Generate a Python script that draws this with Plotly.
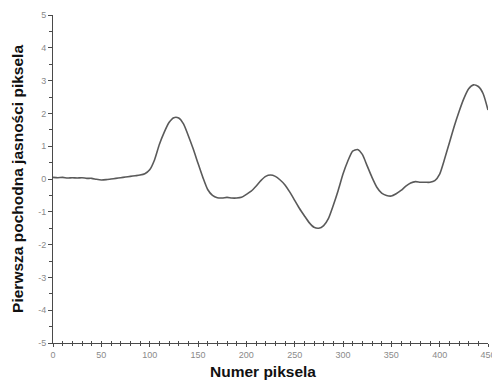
import plotly.graph_objects as go

pixel = list(range(0, 451, 5))
derivative = [
    0.05, 0.04, 0.05, 0.03, 0.04, 0.03, 0.04, 0.02, 0.02, -0.01,
    -0.03, -0.02, 0.00, 0.02, 0.04, 0.06, 0.08, 0.10, 0.12, 0.16,
    0.28, 0.58, 1.05, 1.42, 1.72, 1.87, 1.86, 1.68, 1.32, 0.92,
    0.48, 0.05, -0.32, -0.50, -0.57, -0.58, -0.56, -0.58, -0.58, -0.56,
    -0.47, -0.37, -0.22, -0.05, 0.08, 0.12, 0.08, -0.03, -0.18, -0.40,
    -0.65, -0.90, -1.12, -1.33, -1.47, -1.50, -1.42, -1.20, -0.80, -0.35,
    0.15, 0.55, 0.85, 0.90, 0.75, 0.40, 0.05, -0.25, -0.43, -0.50,
    -0.52, -0.45, -0.35, -0.22, -0.12, -0.08, -0.10, -0.10, -0.10, -0.05,
    0.15, 0.60, 1.10, 1.60, 2.05, 2.45, 2.75, 2.87, 2.82, 2.60,
    2.10,
]
x_ticks = [0, 50, 100, 150, 200, 250, 300, 350, 400, 450]
y_ticks = [-5, -4, -3, -2, -1, 0, 1, 2, 3, 4, 5]

x_title = "Numer piksela"
y_title = "Pierwsza pochodna jasności piksela"

fig = go.Figure()
fig.add_trace(go.Scatter(
    x=pixel, y=derivative, mode="lines",
    line=dict(color="#5a5a5a", width=1.6, shape="spline", smoothing=0.6),
    showlegend=False, hoverinfo="skip",
))
# overlay axis hosting the inward half of the x ticks (ticks cross the axis line)
fig.add_trace(go.Scatter(x=[0, 450], y=[0, 0], xaxis="x2", mode="lines",
                         line=dict(width=0), showlegend=False, hoverinfo="skip"))

axis_font = dict(family="Liberation Sans, Arial, sans-serif", size=9, color="#8a8a8a")
title_font = dict(family="Liberation Sans, Arial, sans-serif", size=15.5, color="#111111")

fig.update_layout(
    width=492, height=381,
    margin=dict(l=53, r=4, t=15, b=38, autoexpand=False),
    paper_bgcolor="white", plot_bgcolor="white",
    xaxis=dict(
        range=[0, 450], tickvals=x_ticks, ticktext=[str(v) for v in x_ticks],
        showgrid=False, zeroline=False, showline=True, linecolor="#4a4a4a", linewidth=1,
        ticks="outside", ticklen=3, tickcolor="#4a4a4a", tickwidth=1,
        minor=dict(dtick=10, ticks="outside", ticklen=2, tickcolor="#4a4a4a"),
        tickfont=axis_font, automargin=False, ticklabeloverflow="allow",
    ),
    xaxis2=dict(
        range=[0, 450], overlaying="x", matches="x", anchor="y", side="bottom",
        tickvals=x_ticks, showticklabels=False, showgrid=False, zeroline=False,
        showline=False, ticks="inside", ticklen=2, tickcolor="#4a4a4a",
        minor=dict(dtick=10, ticks="inside", ticklen=2, tickcolor="#4a4a4a"),
        automargin=False,
    ),
    yaxis=dict(
        range=[-5, 5], tickvals=y_ticks, ticktext=[str(v) for v in y_ticks],
        showgrid=False, zeroline=False, showline=True, linecolor="#4a4a4a", linewidth=1,
        ticks="outside", ticklen=4, tickcolor="#4a4a4a",
        minor=dict(dtick=0.5, ticks="outside", ticklen=3, tickcolor="#4a4a4a"),
        tickfont=axis_font, automargin=False, ticklabeloverflow="allow",
    ),
    annotations=[
        dict(text="<b>" + x_title + "</b>", xref="paper", yref="paper",
             x=0.483, y=-0.088, xanchor="center", yanchor="middle",
             showarrow=False, font=title_font),
        dict(text="<b>" + y_title + "</b>", xref="paper", yref="paper",
             x=-0.083, y=0.5, xanchor="center", yanchor="middle", textangle=-90,
             showarrow=False, font=title_font),
    ],
)

fig.write_html("out.html", config={"displayModeBar": False},
               post_script="document.body.style.margin='0';")
